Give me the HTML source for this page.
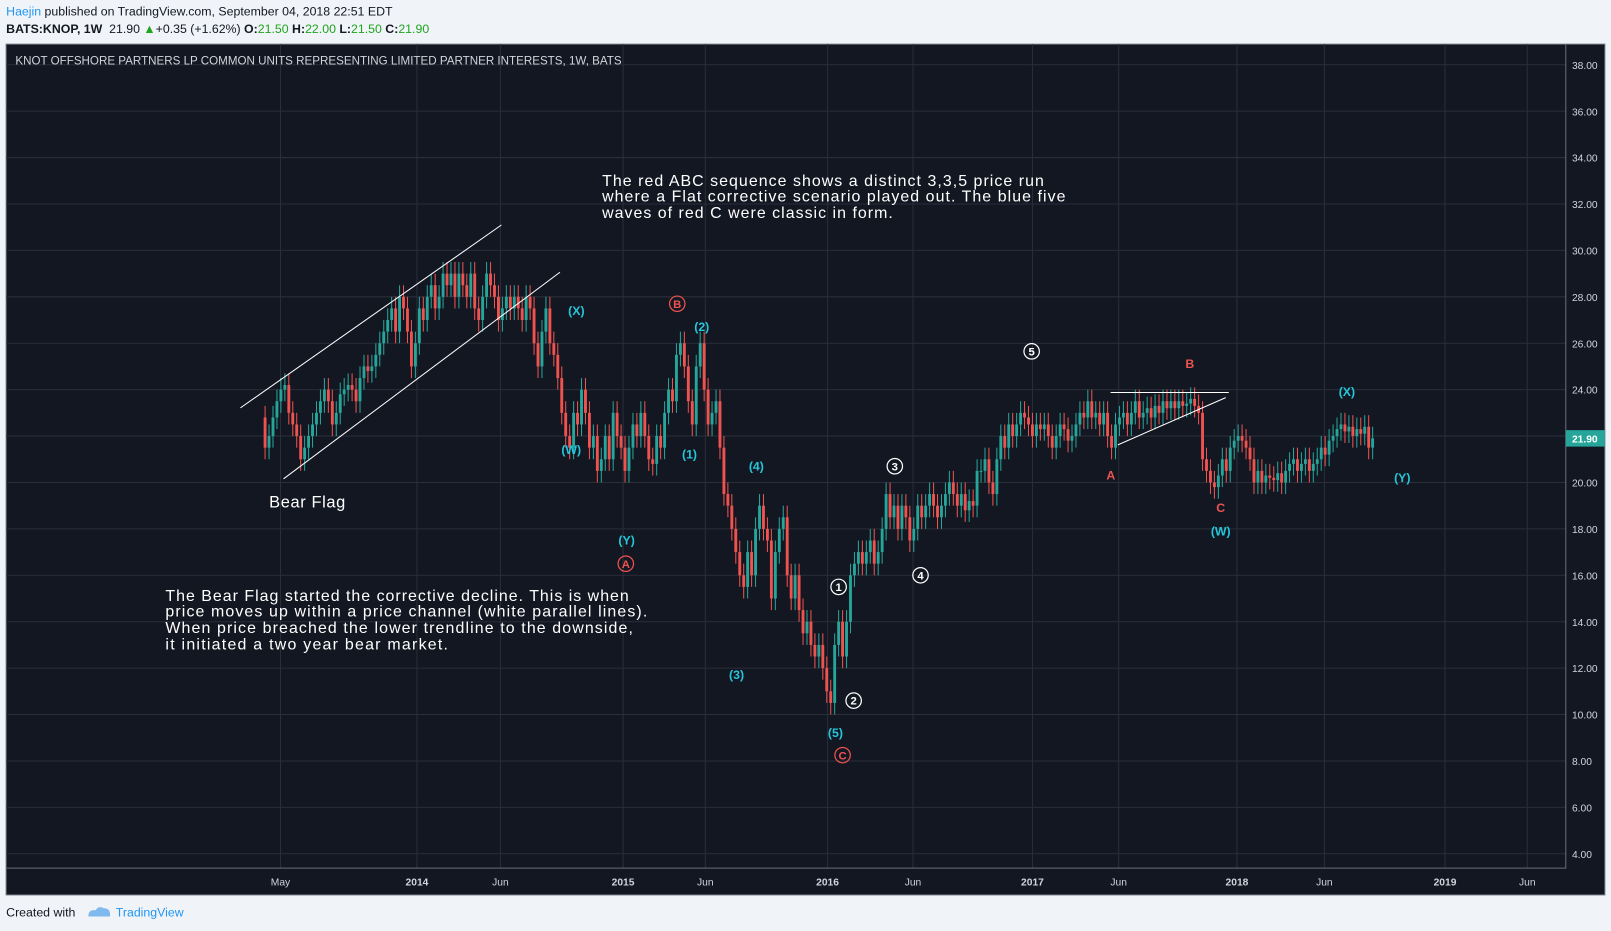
<!DOCTYPE html>
<html><head><meta charset="utf-8"><style>
html,body{margin:0;padding:0;width:1611px;height:931px;overflow:hidden;background:#f0f3f7;font-family:"Liberation Sans",sans-serif}
#wrap{position:absolute;left:0;top:0;width:1568px;height:906px;transform:scale(1.02742);transform-origin:0 0}
.hdr{position:absolute;left:6px;font-size:12px;color:#131722;white-space:nowrap}
</style></head><body>
<div id="wrap">
<div class="hdr" style="top:4px"><span style="color:#2196f3">Haejin</span> published on TradingView.com, September 04, 2018 22:51 EDT</div>
<div class="hdr" style="top:21px"><b>BATS:KNOP, 1W</b>&nbsp; 21.90 <span style="color:#1ea51e">▲</span>+0.35 (+1.62%) <b>O:</b><span style="color:#1ea51e">21.50</span> <b>H:</b><span style="color:#1ea51e">22.00</span> <b>L:</b><span style="color:#1ea51e">21.50</span> <b>C:</b><span style="color:#1ea51e">21.90</span></div>
<svg id="chart" width="1568" height="906" style="position:absolute;left:0;top:0" font-family="Liberation Sans, sans-serif">
<rect x="6" y="43" width="1556" height="828" fill="#131722" stroke="#6a6d78"/>
<g id="grid"></g><g id="candles"></g><g id="lines"></g><g id="labels"></g><g id="axes"></g>
<text x="15" y="63" fill="#d1d4dc" font-size="11.5" textLength="590" lengthAdjust="spacingAndGlyphs">KNOT OFFSHORE PARTNERS LP COMMON UNITS REPRESENTING LIMITED PARTNER INTERESTS, 1W, BATS</text>
<g fill="#ffffff" font-size="15.5" lengthAdjust="spacingAndGlyphs"><text x="586" y="181" textLength="430">The red ABC sequence shows a distinct 3,3,5 price run</text><text x="586" y="196" textLength="451">where a Flat corrective scenario played out. The blue five</text><text x="586" y="212" textLength="283">waves of red C were classic in form.</text></g>
<g fill="#ffffff" font-size="15.5"><text x="161" y="585" textLength="451">The Bear Flag started the corrective decline. This is when</text><text x="161" y="600" textLength="469">price moves up within a price channel (white parallel lines).</text><text x="161" y="616" textLength="455">When price breached the lower trendline to the downside,</text><text x="161" y="632" textLength="275">it initiated a two year bear market.</text></g>
<text x="262" y="494" fill="#ffffff" font-size="16" textLength="74">Bear Flag</text>
</svg>
<div style="position:absolute;left:6px;top:881px;font-size:12px;color:#131722">Created with <span style="color:#2196f3;margin-left:36px">TradingView</span></div>
<svg style="position:absolute;left:84px;top:880px" width="26" height="14"><path d="M2 12 Q2 5 9 6 Q12 1 17 4 Q24 4 23 12 Z" fill="#7fb9ee"/></svg>
</div>
<script>
const closes=[21.5,22,22.8,23.5,24,24.2,23,22.5,22,21,21.5,
22,22.5,23,23.5,24,23.5,22.5,23,23.8,24,
24.2,24,23.5,24.5,25,24.8,25,25.5,26,26.5,
27,27.5,26.5,28,27.5,26.5,25,26,27.5,
27,28,28.5,27.5,28,29,28.5,29,28,29,28.5,
28,29,27.5,27,28,29,28.5,28,27,27.5,
28,27.5,28,27.5,27,28,27.5,26,25,26.5,
27.5,26,25.5,24.5,23,22,21.5,23,22.5,24,
23,21.5,22,20.5,21,22,21,23,22,21.5,20.5,
21.5,22.5,22,23,22,21,20.8,22,21.5,
23,24,23.5,25.5,26,25,23.5,22.5,25,26,
24,22.5,23,23.5,21.5,19.5,19,18,17,16,
15.5,17,16,18,19,18,17.5,15,17,18,
18.5,16,15,16,14.5,13.5,14,13,12.5,13,12,
11,10.5,13,14,12.5,14,16,16.5,17,
16.5,17,17.5,16.5,17,18,19.5,18.5,19,18,
19,18.5,17.5,18,19,18.5,19,19.5,19,18.5,
19,19.5,20,19.5,19,19.5,18.8,19.2,19,20.5,
20.5,21,20,19.5,21,22,21.5,22.5,22,22.5,23,22.8,22.5,
22,22.5,22.3,22.5,22,21.5,22,
22.5,22.3,21.8,22,22.5,23,22.8,23.5,22.8,23,
22.5,23,22,21.5,22.5,22.8,23,22.5,23,23.5,
22.8,23,23.2,22.8,23.3,23,23.5,23.2,23.5,23.2,
23.5,23.3,23.4,23.6,23.3,23,21,20.5,20,19.8,20.3,21,20.5,21.5,21.8,
22,21.8,21.5,21,20,20.5,20,20.3,20.2,20.1,20.4,20,20.5,20.8,21,
20.5,20.8,21,20.5,20.8,21,21.5,21.2,21.8,22,22.3,22.5,22.2,22.4,22,22.3,22.1,22.4,21.5,21.9];
const firstOpen=22.8;
const priceTicks=[4,6,8,10,12,14,16,18,20,22,24,26,28,30,32,34,36,38];
const timeLabels=["May","2014","Jun","2015","Jun","2016","Jun","2017","Jun","2018","Jun","2019","Jun"];
const timeWeeks=[3.9,38.4,59.5,90.5,111.3,142.2,163.8,194,215.8,245.7,267.8,298.3,319.1];
const waveLabels=[["(X)",78.7,27.4,"c",0],["(W)",77.4,21.4,"c",0],["(Y)",91.4,17.5,"c",0],["A",91.2,16.5,"r",1],["B",104.2,27.7,"r",1],["(2)",110.4,26.7,"c",0],["(1)",107.3,21.2,"c",0],["(4)",124.2,20.7,"c",0],["(3)",119.2,11.7,"c",0],["1",145,15.5,"w",1],["2",148.8,10.6,"w",1],["(5)",144.2,9.2,"c",0],["C",146,8.25,"r",1],["3",159.2,20.7,"w",1],["4",165.7,16,"w",1],["5",193.8,25.65,"w",1],["A",213.8,20.3,"r",0],["B",233.8,25.1,"r",0],["C",241.6,18.9,"r",0],["(W)",241.6,17.9,"c",0],["(X)",273.5,23.9,"c",0],["(Y)",287.5,20.2,"c",0]];
const X0=258,DX=3.85;
const xw=w=>X0+w*DX, yp=p=>831-(p-4)*22.588;
const NS="http://www.w3.org/2000/svg";
function mk(par,tag,at){const e=document.createElementNS(NS,tag);for(const k in at)e.setAttribute(k,at[k]);document.getElementById(par).appendChild(e);return e;}
priceTicks.forEach(p=>{const l=mk("grid","line",{x1:6,x2:1524,y1:yp(p),y2:yp(p),stroke:"#2a2e39"});


const t=mk("axes","text",{x:1530,y:yp(p)+4,fill:"#d1d4dc","font-size":10});t.textContent=p.toFixed(2);

});
timeLabels.forEach((s,i)=>{const x=xw(timeWeeks[i]);const l=mk("grid","line",{x1:x,x2:x,y1:43,y2:845,stroke:"#2a2e39"});


const t=mk("axes","text",{x:x,y:862,fill:"#d1d4dc","font-size":10,"text-anchor":"middle","font-weight":s.length==4?"bold":"normal"});t.textContent=s;

});
const ax=mk("axes","path",{d:"M1524 43V845H6",stroke:"#6a6d78",fill:"none"});


closes.forEach((c,i)=>{const o=i?closes[i-1]:firstOpen;const up=c>=o;const col=up?"#26a69a":"#ef5350";const x=xw(i);
const hi=Math.max(o,c)+0.5,lo=Math.min(o,c)-0.5;
const g=mk("candles","g",{});


const w=document.createElementNS(NS,"line");w.setAttribute("x1",x);w.setAttribute("x2",x);w.setAttribute("y1",yp(hi));w.setAttribute("y2",yp(lo));w.setAttribute("stroke",col);g.appendChild(w);
const r=document.createElementNS(NS,"rect");r.setAttribute("x",x-1.4);r.setAttribute("width",2.8);r.setAttribute("y",yp(Math.max(o,c)));r.setAttribute("height",Math.max(1,yp(Math.min(o,c))-yp(Math.max(o,c))));r.setAttribute("fill",col);g.appendChild(r);});
[[234,397,488,219,"channel-upper-line"],[276,466,545,265,"channel-lower-line"],[1081,382,1196,382,"triangle-top-line"],[1088,433,1193,387,"triangle-bottom-line"]].forEach(a=>{const l=mk("lines","line",{x1:a[0],y1:a[1],x2:a[2],y2:a[3],stroke:"#ffffff","stroke-width":1});

});
const cols={c:"#26c6da",r:"#ef5350",w:"#ffffff"};
waveLabels.forEach(a=>{const x=xw(a[1]),y=yp(a[2]);const col=cols[a[3]];
if(a[4]){const c=mk("labels","circle",{cx:x,cy:y,r:7.5,fill:"none",stroke:col,"stroke-width":1.2});

}
const t=mk("labels","text",{x:x,y:y+4,fill:col,"font-size":a[4]?11:12,"font-weight":"bold","text-anchor":"middle"});t.textContent=a[0];

});
const lp=mk("axes","rect",{x:1524,y:yp(21.9)-8,width:38,height:16,fill:"#26a69a"});


const lt=mk("axes","text",{x:1530,y:yp(21.9)+4,fill:"#fff","font-size":10,"font-weight":"bold"});lt.textContent="21.90";


</script>
</body></html>
